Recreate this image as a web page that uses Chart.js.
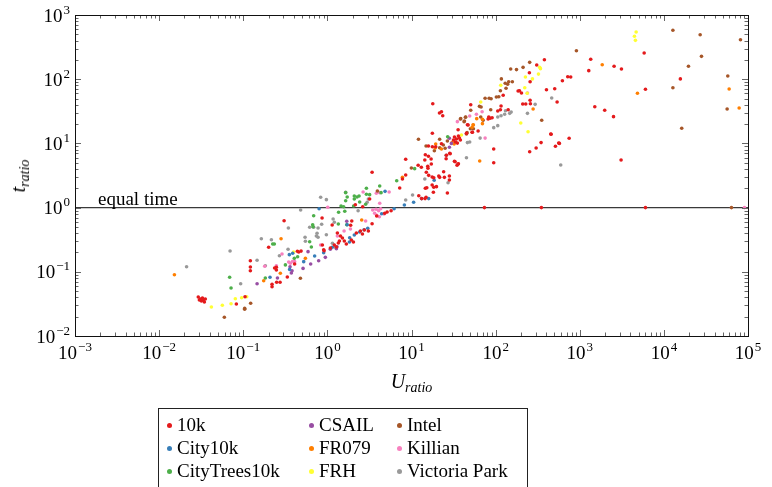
<!DOCTYPE html>
<html>
<head>
<meta charset="utf-8">
<script src="https://cdn.jsdelivr.net/npm/chart.js@4.4.1/dist/chart.umd.min.js"></script>
<style>
  html, body { margin:0; padding:0; background:#fff; }
  #wrap { position:relative; width:772px; height:487px; overflow:hidden; font-family:"Liberation Serif", serif; color:#000; }
  #c { position:absolute; left:0; top:0; }
  #xt { position:absolute; left:75px; width:673px; top:370px; text-align:center; font-size:20px; font-style:italic; }
  #yt { position:absolute; left:20px; top:176px; font-size:20px; font-style:italic; transform:translate(-50%,-50%) rotate(-90deg); white-space:nowrap; }
  sub { font-size:14px; vertical-align:-4px; }
  #legend { position:absolute; left:158px; top:408px; width:370px; height:100px; border:1px solid #222; box-sizing:border-box; }
  .li { position:absolute; font-size:19px; line-height:22px; white-space:nowrap; }
  .li i { display:inline-block; width:5px; height:5px; border-radius:50%; margin-right:5px; vertical-align:3px; }
</style>
</head>
<body>
<div id="wrap">
  <canvas id="c" width="772" height="487"></canvas>
  <div id="xt">U<sub>ratio</sub></div>
  <div id="yt">t<sub>ratio</sub></div>
  <div id="legend"></div>
</div>
<script>
const SERIES_NAMES  = ['10k','City10k','CityTrees10k','CSAIL','FR079','FRH','Intel','Killian','Victoria Park'];
const SERIES_COLORS = ['#e41a1c','#377eb8','#4daf4a','#984ea3','#ff7f00','#ffff33','#a65628','#f781bf','#999999'];
const X_RANGE = [1e-3, 1e5];
const Y_RANGE = [1e-2, 1e3];
const X_EXPONENTS = [-3, -2, -1, 0, 1, 2, 3, 4, 5];
const Y_EXPONENTS = [-2, -1, 0, 1, 2, 3];
const EQUAL_Y = 1;
const EQUAL_LABEL = 'equal time';

// [U_ratio, t_ratio] per dataset
const pts10k = [
  [0.0292,0.0405],[0.0309,0.0377],[0.0318,0.0351],[0.0327,0.0391],[0.0336,0.0364],[0.0354,0.0377],[0.0301,0.0364],[0.0345,0.0339],
  [0.1215,0.149],[0.1215,0.119],[0.1215,0.104],[0.105,0.0409],[0.0828,0.0315],
  [3.40,3.55],[3.18,1.36],[2.15,1.11],[2.63,1.03],[3.40,0.561],[1.89,0.530],[1.95,0.618],[0.865,0.689],[1.14,0.536],[0.306,0.625],
  [0.2005,0.241],[0.872,0.2615],[0.904,0.221],[0.914,0.213],
  [2.21,0.402],[2.47,0.432],[2.75,0.448],[3.07,0.432],[2.61,0.388],[1.315,0.402],[1.43,0.361],[1.51,0.336],[1.39,0.302],[1.59,0.302],
  [1.35,0.281],[1.21,0.2615],[1.28,0.243],[1.085,0.235],[1.68,0.271],[1.93,0.313],[2.04,0.291],
  [0.44,0.209],[0.487,0.21],[0.456,0.203],[0.408,0.132],[0.334,0.083],[0.2475,0.1175],[0.236,0.1146],[0.2496,0.0686],[0.274,0.0686],
  [0.220,0.0639],[0.220,0.0586],[0.2475,0.1067],
  [17.9,41.5],[22.7,31.2],[21.5,29.8],[23.5,27.0],[50.6,40.1],[46.2,19.5],[35.8,16.3],[17.7,14.4],
  [32.4,12.6],[34.2,11.7],[36.1,13.0],[38.1,11.3],[33.3,10.5],[35.1,10.1],[37.1,12.1],[31.5,11.3],
  [52.5,14.9],[22.7,9.9],[19.4,8.88],[17.7,8.88],[15.9,9.11],[26.0,6.53],[25.8,5.78],[28.8,6.91],[14.6,6.67],[15.9,6.30],[17.1,5.71],
  [14.4,5.51],[8.53,5.65],[12.0,4.56],[13.1,4.24],[15.6,4.40],[15.7,4.10],[17.2,4.78],[33.0,5.19],[35.8,4.78],[34.8,4.56],[15.0,3.55],
  [8.53,3.22],[16.0,3.18],[17.6,3.0],[18.4,2.92],[21.1,3.11],[21.6,2.96],[24.1,3.62],[24.6,2.96],[28.2,3.11],[28.2,2.69],[7.8,2.79],
  [17.6,2.25],[18.4,2.07],[19.8,2.12],[14.6,2.0],[15.2,2.04],[7.24,2.02],[26.7,1.69],[18.2,1.73],[12.2,1.53],[13.2,1.38],[14.5,1.38],
  [14.9,1.45],[5.72,0.895],[5.13,0.854],[3.86,0.74],[4.80,0.815],
  [380,201],[308,166],[252,126],[257,91.4],[402,68.6],[504,71.1],[185,65.5],[192,66.2],[203,61.0],[123,56.1],[257,46.9],[538,44.2],
  [116,38.2],[210,41.1],[228,41.1],[259,41.5],[141,33.5],[106,32.0],[114,33.5],[82.8,25.8],[86.0,24.6],[90.8,25.1],[81.4,24.0],
  [47.1,19.3],[45.0,14.4],[53.0,14.9],[61.9,15.6],[452,14.0],[347,10.3],[303,8.48],[254,7.43],[514,9.02],[562,10.1],[94.9,8.18],
  [28.5,7.01],[32.4,5.26],[36.1,4.83],[94.9,5.0],
  [5830,256],[1350,204],[2560,159],[3130,144],[1280,136],[720,109],[781,108],[622,94.8],[15700,101],[6040,69.6],[1510,37.3],
  [1980,32.8],[2520,26.1],[457,13.9],[748,12.0],[573,10.0],[3100,5.51],
  [73.6,1],[350,1],[6040,1]
];
const ptsCity10k = [
  [0.797,0.961],[3.02,0.476],[2.73,0.453],[2.42,0.417],[2.09,0.374],[1.84,0.34],[1.83,0.291],[1.72,0.542],[1.14,0.241],[0.904,0.198],
  [0.706,0.176],[0.353,0.185],[0.387,0.194],[0.523,0.144],[0.356,0.109],[0.208,0.0821],[18.6,2.66],[13.2,1.38],[16.0,1.38],[8.23,1.10],
  [10.6,1.21],[4.85,1.79],[6.21,0.961],[4.42,0.803]
];
const ptsCityTrees = [
  [0.0689,0.0821],[0.0716,0.0559],[1.65,1.71],[1.72,1.46],[2.09,1.52],[2.25,1.46],[2.38,1.52],[2.09,1.36],[1.65,1.28],[2.42,1.22],
  [2.91,2.0],[3.18,1.59],[2.91,1.61],[2.85,1.13],[1.455,1.06],[1.56,1.03],[2.05,1.06],[4.19,2.17],[1.61,0.876],[1.36,0.845],
  [1.70,0.542],[1.35,0.555],[0.687,0.748],[0.669,0.542],[0.675,0.504],[0.616,0.294],[0.645,0.243],[0.224,0.271],[0.234,0.271],
  [0.443,0.172],[0.405,0.162],[0.317,0.128],[0.183,0.080],[26.9,12.7],[10.9,4.04],[6.67,2.62],[4.35,1.71]
];
const ptsCSAIL = [
  [0.146,0.0653],[1.70,0.612],[1.085,0.224],[1.28,0.229],[1.30,0.246],[0.788,0.149],[0.946,0.168],[0.633,0.132],[0.589,0.206],
  [0.514,0.113],[0.36,0.12],[0.38,0.104],[0.373,0.0958],[0.255,0.08],[28.2,8.69],[29.8,10.0],[28.2,12.0]
];
const ptsFR079 = [
  [0.0152,0.0901],[0.2815,0.328],[2.56,0.641],[0.548,0.162],[0.276,0.0948],[0.175,0.0727],[54.0,19.5],[52.5,17.8],[32.1,9.79],
  [30.4,10.3],[19.4,9.79],[22.7,8.18],[19.1,8.48],[7.8,2.96],[279,34.3],[69.7,23.7],[54.4,19.3],[59.6,24.3],[69.7,20.3],[64.7,5.32],
  [1850,168],[4850,60.3],[59700,70.4],[78500,35.6]
];
const ptsFRH = [
  [0.0805,0.0381],[0.0957,0.0395],[0.11,0.0409],[0.0716,0.0318],[0.0564,0.0301],[0.0418,0.0283],[0.397,0.203],[39.2,13.5],
  [334,153],[341,146],[323,120],[274,101],[226,108],[115,80.4],[222,73.7],[237,60.3],[66.5,44.2],[199,20.8],[243,15.2],
  [4680,544],[4470,466],[4590,403]
];
const ptsIntel = [
  [0.1225,0.0323],[0.104,0.027],[0.104,0.0261],[0.0596,0.0196],[3.93,1.81],[0.478,0.0792],[50.6,32.8],[43.7,25.5],[38.5,24.3],
  [42.2,21.8],[50.1,16.9],[54.4,16.9],[45.8,14.7],[45.0,14.0],[12.1,11.6],[21.6,11.6],[26.7,10.9],[21.6,8.57],[18.7,7.69],[25.1,8.39],
  [23.9,9.44],[14.9,9.11],[9.97,4.14],
  [254,183],[212,153],[177,141],[151,144],[117,101],[130,86.3],[143,91.4],[158,91.4],[139,83.3],[133,72.2],[114,66.2],[109,53.4],
  [102,52.8],[88.4,49.7],[83.7,50.4],[75.0,50.4],[64.2,37.8],[67.2,36.9],[87.4,33.5],[66.5,25.8],[71.0,22.9],[44.1,25.8],[42.6,22.3],
  [38.1,24.0],[353,22.9],
  [12800,578],[27000,493],[81400,412],[913,278],[28000,227],[19600,159],[57500,112],[12800,73.7],[56500,34.3],[16300,17.2],[63600,1]
];
const ptsKillian = [
  [1.01,1.01],[4.19,1.71],[3.46,0.918],[3.79,0.941],[4.07,0.895],[3.65,0.815],[3.86,0.759],[4.15,0.721],[2.85,0.618],[1.88,0.464],
  [1.315,0.361],[1.58,0.432],[0.832,0.2615],[0.289,0.189],[0.387,0.146],[0.347,0.142],[0.363,0.136],[0.408,0.144],[0.2475,0.124],
  [0.18,0.122],[35.1,21.8],[49.2,26.7],[3.82,1.67],[5.42,1.75],[4.19,1.17],[4.30,0.961],[4.72,0.795],[59.1,28.4],[69.1,31.2],
  [239,61.0],[75.0,12.1],[2.66,1.75],[90800,1]
];
const ptsVictoria = [
  [0.0212,0.12],[0.0697,0.211],[0.146,0.151],[0.0931,0.0653],[0.832,1.45],[0.973,1.33],[1.65,1.73],[2.97,1.21],[2.32,0.895],
  [0.481,0.918],[3.07,1.36],[1.17,0.664],[1.21,0.59],[0.855,0.55],[0.775,0.481],[0.687,0.493],[0.616,0.493],[0.754,0.398],
  [0.775,0.345],[0.543,0.345],[0.548,0.299],[0.74,0.361],[0.344,0.481],[0.164,0.328],[0.216,0.316],[0.973,0.378],[1.15,0.278],
  [1.22,0.243],[0.341,0.224],[0.269,0.178],[0.183,0.124],[46.2,10.3],[49.2,10.5],[25.8,6.53],[45.0,5.99],[14.4,2.79],[27.2,2.44],
  [10.3,1.57],[8.53,1.31],[464,51.0],[295,40.6],[153,30.8],[147,29.4],[131,32.3],[128,28.4],[116,27.0],[106,25.8],[239,29.4],
  [94.9,17.6],[106,18.9],[65.4,12.1],[594,4.61]
];
const SERIES_DATA = [pts10k, ptsCity10k, ptsCityTrees, ptsCSAIL, ptsFR079, ptsFRH, ptsIntel, ptsKillian, ptsVictoria];

const FONT = '"Liberation Serif", serif';

// draws "10" with a raised exponent, anchored by align ('center' or 'right')
function powText(ctx, e, x, base, align) {
  const expStr = e < 0 ? '\u2212' + (-e) : String(e);
  ctx.font = '19px ' + FONT;
  const w1 = ctx.measureText('10').width;
  ctx.font = '13px ' + FONT;
  const w2 = ctx.measureText(expStr).width;
  const total = w1 + w2 + 1;
  const x0 = align === 'center' ? x - total / 2 : x - total;
  ctx.font = '19px ' + FONT;
  ctx.fillText('10', x0, base);
  ctx.font = '13px ' + FONT;
  ctx.fillText(expStr, x0 + w1 + 1, base - 8);
}

// inward ticks on all four sides, box, tick labels, equal time label
const frame = {
  id: 'frame',
  afterDraw(chart) {
    const { ctx, chartArea: a, scales } = chart;
    const sx = scales.x, sy = scales.y;
    ctx.save();
    ctx.strokeStyle = '#666';
    ctx.lineWidth = 1;
    ctx.beginPath();
    for (let e = X_EXPONENTS[0]; e <= X_EXPONENTS[X_EXPONENTS.length - 1]; e++) {
      for (let k = 1; k <= 9; k++) {
        const v = k * Math.pow(10, e);
        if (v < sx.min * 0.999 || v > sx.max * 1.001) continue;
        const len = k === 1 ? 6 : 3.5;
        const px = Math.round(sx.getPixelForValue(v)) + 0.5;
        ctx.moveTo(px, a.bottom); ctx.lineTo(px, a.bottom - len);
        ctx.moveTo(px, a.top); ctx.lineTo(px, a.top + len);
      }
    }
    for (let e = Y_EXPONENTS[0]; e <= Y_EXPONENTS[Y_EXPONENTS.length - 1]; e++) {
      for (let k = 1; k <= 9; k++) {
        const v = k * Math.pow(10, e);
        if (v < sy.min * 0.999 || v > sy.max * 1.001) continue;
        const len = k === 1 ? 6 : 3.5;
        const py = Math.round(sy.getPixelForValue(v)) + 0.5;
        ctx.moveTo(a.left, py); ctx.lineTo(a.left + len, py);
        ctx.moveTo(a.right, py); ctx.lineTo(a.right - len, py);
      }
    }
    ctx.stroke();
    ctx.strokeStyle = '#111';
    ctx.strokeRect(Math.round(a.left) + 0.5, Math.round(a.top) + 0.5, Math.round(a.right - a.left), Math.round(a.bottom - a.top));

    ctx.fillStyle = '#000';
    ctx.textBaseline = 'alphabetic';
    ctx.textAlign = 'left';
    X_EXPONENTS.forEach(e => powText(ctx, e, sx.getPixelForValue(Math.pow(10, e)), a.bottom + 23, 'center'));
    Y_EXPONENTS.forEach(e => powText(ctx, e, a.left - 5, sy.getPixelForValue(Math.pow(10, e)) + 6.5, 'right'));

    ctx.font = '19px ' + FONT;
    ctx.fillText(EQUAL_LABEL, a.left + 23, sy.getPixelForValue(EQUAL_Y) - 3);
    ctx.restore();
  }
};

const datasets = SERIES_NAMES.map((name, i) => ({
  label: name,
  data: SERIES_DATA[i].map(p => ({ x: p[0], y: p[1] })),
  backgroundColor: SERIES_COLORS[i],
  borderWidth: 0,
  pointRadius: 1.8,
  pointHoverRadius: 1.8
}));
datasets.push({
  type: 'line',
  label: EQUAL_LABEL,
  data: [{ x: X_RANGE[0], y: EQUAL_Y }, { x: X_RANGE[1], y: EQUAL_Y }],
  borderColor: '#3a3a3a',
  borderWidth: 1.3,
  pointRadius: 0,
  fill: false
});

new Chart(document.getElementById('c'), {
  type: 'scatter',
  data: { datasets },
  options: {
    responsive: false,
    animation: false,
    devicePixelRatio: 1,
    layout: { padding: { top: 15, right: 24, left: 0, bottom: 0 } },
    plugins: { legend: { display: false }, tooltip: { enabled: false } },
    scales: {
      x: {
        type: 'logarithmic', min: X_RANGE[0], max: X_RANGE[1],
        grid: { display: false }, border: { display: false },
        afterFit: s => { s.height = 151; },
        ticks: { display: false }
      },
      y: {
        type: 'logarithmic', min: Y_RANGE[0], max: Y_RANGE[1],
        grid: { display: false }, border: { display: false },
        afterFit: s => { s.width = 75; },
        ticks: { display: false }
      }
    }
  },
  plugins: [frame]
});

const leg = document.getElementById('legend');
const colX = [8, 150, 238];
const rowY = [5, 28, 51];
SERIES_NAMES.forEach((name, i) => {
  const d = document.createElement('div');
  d.className = 'li';
  d.style.left = colX[Math.floor(i / 3)] + 'px';
  d.style.top = rowY[i % 3] + 'px';
  d.innerHTML = '<i style="background:' + SERIES_COLORS[i] + '"></i>' + name;
  leg.appendChild(d);
});
</script>
</body>
</html>
